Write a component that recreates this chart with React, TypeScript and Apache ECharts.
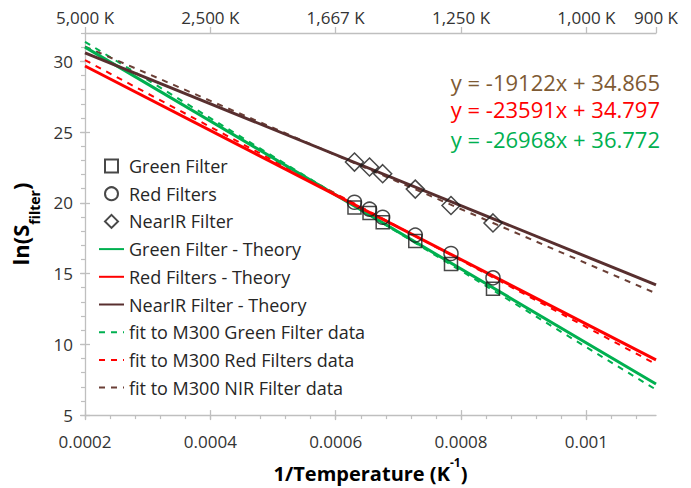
import React, { useEffect, useRef } from 'react';
import * as echarts from 'echarts';

const FONT = '"Open Sans", "Liberation Sans", sans-serif';

// axis ranges & ticks
const X_MIN = 0.0002;
const X_MAX = 1 / 900;
const Y_MIN = 5;
const Y_MAX = 32;
const xTickValues = [0.0002, 0.0004, 0.0006, 0.0008, 0.001];
const xTickLabels = ['0.0002', '0.0004', '0.0006', '0.0008', '0.001'];
const topTemps = [5000, 2500, 1667, 1250, 1000, 900];
const topLabels = ['5,000 K', '2,500 K', '1,667 K', '1,250 K', '1,000 K', '900 K'];
const yTickValues = [5, 10, 15, 20, 25, 30];
const xMinorStep = 0.00004;

// measured data (1/T, ln S)
const invTemp = [0.00063, 0.000654, 0.000675, 0.000727, 0.000784, 0.000851];
const greenMeasured = [19.67, 19.28, 18.63, 17.31, 15.68, 13.93];
const redMeasured = [20.04, 19.55, 18.98, 17.72, 16.42, 14.7];
const nirMeasured = [22.88, 22.53, 22.06, 20.97, 19.81, 18.58];

// theory & fit lines (read at the plot edges)
const lineX = [0.0002, 1 / 900];
const greenTheory = [31.0, 7.2];
const redTheory = [29.67, 8.9];
const nirTheory = [30.6, 14.2];
const greenFit = [31.38, 6.8];
const redFit = [30.08, 8.6];
const nirFit = [31.04, 13.6];

const equations = ['y = -19122x + 34.865', 'y = -23591x + 34.797', 'y = -26968x + 36.772'];

const GREEN = '#00B050';
const RED = '#FF0000';
const NIR = '#582F2F';
const NIR_FIT = '#6B3F36';
const EQ_BROWN = '#7E5A33';
const AXIS_GRAY = '#BFBFBF';
const LABEL = '#333333';

const SQUARE_ICON = 'path://M0,0L10,0L10,10L0,10Z';
const DIAMOND_ICON = 'path://M5,0L10,5L5,10L0,5Z';

const pairs = (xs: number[], ys: number[]) => xs.map((x, i) => [x, ys[i]]);

const near = (arr: number[], v: number) => arr.findIndex((t) => Math.abs(t - v) < 1e-8);

export default function App() {
  const ref = useRef<HTMLDivElement>(null);
  useEffect(() => {
    document.body.style.margin = '0';
    const chart = echarts.init(ref.current!, null, { renderer: 'svg' });
    const xMinorTicks: number[] = [];
    for (let i = 0; X_MIN + i * xMinorStep <= X_MAX + 1e-12; i++) xMinorTicks.push(X_MIN + i * xMinorStep);
    const topVals = topTemps.map((t) => 1 / t);

    const scatterStyle = { color: 'rgba(0,0,0,0)', borderColor: '#1A1A1A', borderWidth: 1.5 };
    const lineSeries = (name: string, ys: number[], color: string, dashed: boolean) => ({
      name,
      type: 'line',
      data: pairs(lineX, ys),
      symbol: 'none',
      showSymbol: false,
      lineStyle: { color, width: dashed ? 2 : 3, type: dashed ? [6, 6] : 'solid' },
      itemStyle: { color },
      z: dashed ? 2 : 3,
    });
    const lineLegend = (name: string) => ({
      name,
      itemStyle: { color: 'rgba(0,0,0,0)', borderWidth: 0, opacity: 0 },
    });

    const option: any = {
      animation: false,
      grid: { left: 85, right: 35, top: 33, bottom: 68 },
      xAxis: [
        {
          type: 'value',
          position: 'bottom',
          min: X_MIN,
          max: X_MAX,
          interval: 0.0002,
          axisLine: { show: true, lineStyle: { color: AXIS_GRAY, width: 1.3 } },
          axisTick: { show: true, customValues: xTickValues, length: 5, lineStyle: { color: AXIS_GRAY, width: 1.3 } },
          axisLabel: {
            customValues: xTickValues,
            formatter: (v: number) => {
              const i = near(xTickValues, v);
              return i >= 0 ? xTickLabels[i] : '';
            },
            fontFamily: FONT,
            fontSize: 17,
            color: LABEL,
            margin: 18,
          },
          splitLine: { show: false },
          name: '{a|1/Temperature (K}{b|-1}{a|)}',
          nameLocation: 'middle',
          nameGap: 31,
          nameTextStyle: {
            rich: {
              a: { fontFamily: FONT, fontSize: 20, fontWeight: 'bold', color: '#000', lineHeight: 28, verticalAlign: 'bottom' },
              b: { fontFamily: FONT, fontSize: 12, fontWeight: 'bold', color: '#000', lineHeight: 12, verticalAlign: 'top', padding: [1, 0, 0, 0] },
            },
          },
        },
        {
          type: 'value',
          position: 'bottom',
          min: X_MIN,
          max: X_MAX,
          interval: 0.0002,
          axisLine: { show: false },
          axisTick: { show: true, customValues: xMinorTicks, length: 4, lineStyle: { color: AXIS_GRAY, width: 1.2 } },
          axisLabel: { show: false },
          splitLine: { show: false },
        },
        {
          type: 'value',
          position: 'bottom',
          min: X_MIN,
          max: X_MAX,
          interval: 0.0002,
          axisLine: { show: false },
          axisTick: { show: true, inside: true, customValues: xTickValues, length: 5, lineStyle: { color: AXIS_GRAY, width: 1.3 } },
          axisLabel: { show: false },
          splitLine: { show: false },
        },
        {
          type: 'value',
          position: 'top',
          min: X_MIN,
          max: X_MAX,
          interval: 0.0002,
          axisLine: { show: true, lineStyle: { color: AXIS_GRAY, width: 1.3 } },
          axisTick: { show: true, customValues: topVals, length: 6, lineStyle: { color: AXIS_GRAY, width: 1.3 } },
          axisLabel: {
            customValues: topVals,
            formatter: (v: number) => {
              const i = near(topVals, v);
              return i >= 0 ? topLabels[i] : '';
            },
            fontFamily: FONT,
            fontSize: 17,
            color: LABEL,
            margin: 7,
          },
          splitLine: { show: false },
        },
      ],
      yAxis: [
        {
          type: 'value',
          position: 'left',
          min: Y_MIN,
          max: Y_MAX,
          interval: 5,
          axisLine: { show: true, lineStyle: { color: AXIS_GRAY, width: 1.3 } },
          axisTick: { show: true, customValues: yTickValues, length: 5, lineStyle: { color: AXIS_GRAY, width: 1.3 } },
          axisLabel: { customValues: yTickValues, fontFamily: FONT, fontSize: 17, color: LABEL, margin: 12 },
          splitLine: { show: false },
          name: '{a|ln(S}{b|filter}{a|)}',
          nameLocation: 'middle',
          nameGap: 44,
          nameRotate: 90,
          nameTextStyle: {
            rich: {
              a: { fontFamily: FONT, fontSize: 22, fontWeight: 'bold', color: '#000', lineHeight: 32, verticalAlign: 'top' },
              b: { fontFamily: FONT, fontSize: 14, fontWeight: 'bold', color: '#000', lineHeight: 14, verticalAlign: 'bottom' },
            },
          },
        },
        {
          type: 'value',
          position: 'left',
          min: Y_MIN,
          max: Y_MAX,
          interval: 1,
          axisLine: { show: false },
          axisTick: { show: true, length: 4, lineStyle: { color: AXIS_GRAY, width: 1.2 } },
          axisLabel: { show: false },
          splitLine: { show: false },
        },
        {
          type: 'value',
          position: 'left',
          min: Y_MIN,
          max: Y_MAX,
          interval: 5,
          axisLine: { show: false },
          axisTick: { show: true, inside: true, customValues: yTickValues, length: 5, lineStyle: { color: AXIS_GRAY, width: 1.3 } },
          axisLabel: { show: false },
          splitLine: { show: false },
        },
      ],
      legend: {
        orient: 'vertical',
        left: 98,
        top: 156,
        padding: 0,
        itemWidth: 25,
        itemHeight: 13,
        itemGap: 7.7,
        symbolKeepAspect: true,
        selectedMode: false,
        textStyle: { fontFamily: FONT, fontSize: 18, color: '#262626', lineHeight: 20 },
        data: [
          { name: 'Green Filter', icon: SQUARE_ICON },
          { name: 'Red Filters', icon: 'circle' },
          { name: 'NearIR Filter', icon: DIAMOND_ICON },
          lineLegend('Green Filter - Theory'),
          lineLegend('Red Filters - Theory'),
          lineLegend('NearIR Filter - Theory'),
          lineLegend('fit to M300 Green Filter data'),
          lineLegend('fit to M300 Red Filters data'),
          lineLegend('fit to M300 NIR Filter data'),
        ],
      },
      graphic: equations.map((t, i) => ({
        type: 'text',
        x: 660,
        y: [82, 109, 139][i],
        style: {
          text: t,
          fill: [EQ_BROWN, RED, GREEN][i],
          font: `22px ${FONT}`,
          lineHeight: 22,
          align: 'right',
          verticalAlign: 'middle',
        },
      })),
      series: [
        lineSeries('fit to M300 Green Filter data', greenFit, GREEN, true),
        lineSeries('fit to M300 Red Filters data', redFit, RED, true),
        lineSeries('fit to M300 NIR Filter data', nirFit, NIR_FIT, true),
        lineSeries('Green Filter - Theory', greenTheory, GREEN, false),
        lineSeries('Red Filters - Theory', redTheory, RED, false),
        lineSeries('NearIR Filter - Theory', nirTheory, NIR, false),
        {
          name: 'Green Filter',
          type: 'scatter',
          symbol: 'rect',
          symbolSize: 13,
          data: pairs(invTemp, greenMeasured),
          itemStyle: scatterStyle,
          z: 5,
        },
        {
          name: 'Red Filters',
          type: 'scatter',
          symbol: 'circle',
          symbolSize: 14,
          data: pairs(invTemp, redMeasured),
          itemStyle: scatterStyle,
          z: 5,
        },
        {
          name: 'NearIR Filter',
          type: 'scatter',
          symbol: 'diamond',
          symbolSize: 18,
          data: pairs(invTemp, nirMeasured),
          itemStyle: scatterStyle,
          z: 5,
        },
      ],
    };
    chart.setOption(option);
    return () => chart.dispose();
  }, []);
  return <div ref={ref} style={{ width: 691, height: 488 }} />;
}
